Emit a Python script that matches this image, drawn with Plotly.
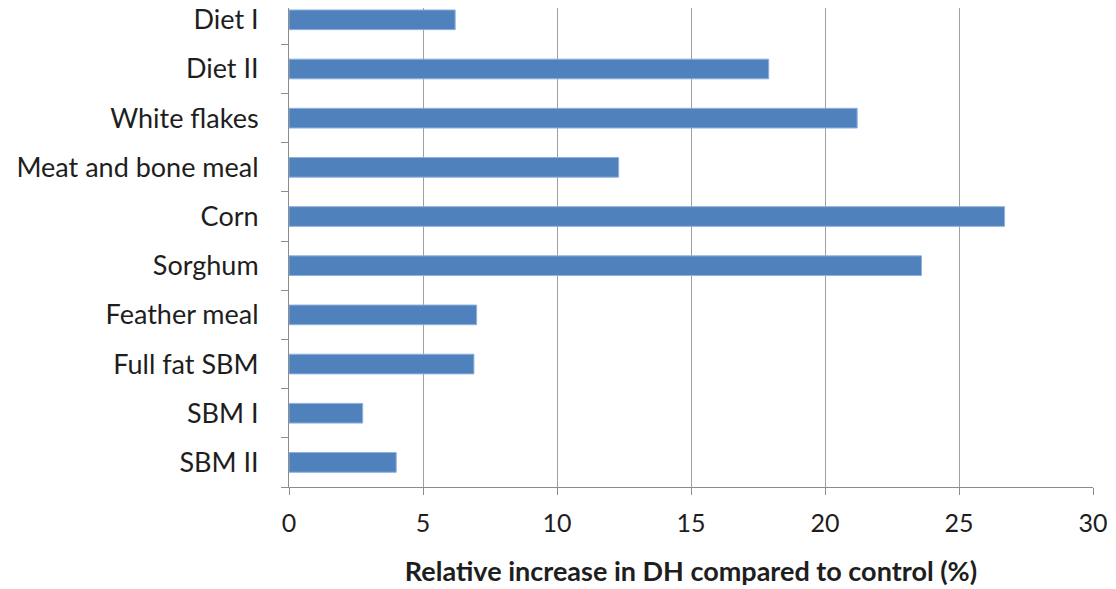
import plotly.graph_objects as go

categories = ["Diet I", "Diet II", "White flakes", "Meat and bone meal", "Corn",
              "Sorghum", "Feather meal", "Full fat SBM", "SBM I", "SBM II"]
values = [6.2, 17.9, 21.2, 12.3, 26.7, 23.6, 7.0, 6.9, 2.75, 4.0]
x_ticks = [0, 5, 10, 15, 20, 25, 30]
x_title = "Relative increase in DH compared to control (%)"

fig = go.Figure(go.Bar(
    y=categories, x=values, orientation="h",
    marker=dict(color="#4F81BD", line=dict(color="#8EB0DC", width=1)),
))

fig.update_layout(
    width=1116, height=589,
    margin=dict(l=281, r=31, t=0, b=110),
    paper_bgcolor="white", plot_bgcolor="white",
    bargap=0.6, showlegend=False,
    font=dict(family="Lato, Open Sans, sans-serif", color="#1e1e1e"),
)
fig.update_xaxes(
    range=[0, 30], tickvals=x_ticks, ticktext=[str(t) for t in x_ticks],
    showgrid=True, gridcolor="#A0A0A0", gridwidth=1,
    showline=True, linecolor="#8C8C8C", linewidth=1,
    ticks="outside", ticklen=7, tickcolor="#8C8C8C",
    tickfont=dict(size=25, color="#1e1e1e"),
    ticklabelstandoff=7,
    zeroline=False, automargin=False,
    title=dict(text="<b>" + x_title + "</b>", font=dict(size=27, color="#1e1e1e"), standoff=26),
)
fig.update_yaxes(
    categoryorder="array", categoryarray=categories[::-1],
    range=[-0.5, 9.24], automargin=False,
    showline=True, linecolor="#8C8C8C", linewidth=1,
    ticks="outside", ticklen=7, tickcolor="#8C8C8C", tickson="boundaries",
    tickfont=dict(size=27, color="#1e1e1e"),
    ticklabelstandoff=24,
    showgrid=False,
)

fig.write_html("out.html")
